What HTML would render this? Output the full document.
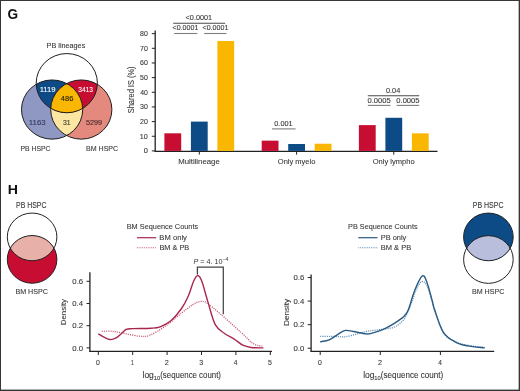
<!DOCTYPE html>
<html><head><meta charset="utf-8"><style>
html,body{margin:0;padding:0;background:#fff;}
svg{display:block;font-family:"Liberation Sans", sans-serif;will-change:transform;}
</style></head><body>
<svg width="520" height="391" viewBox="0 0 520 391">
<rect x="0.5" y="0.5" width="519" height="390" fill="none" stroke="#363636" stroke-width="1"/>
<line x1="518.5" y1="0" x2="518.5" y2="391" stroke="#363636" stroke-opacity="0.35" stroke-width="1"/>
<line x1="0" y1="389.5" x2="520" y2="389.5" stroke="#363636" stroke-opacity="0.4" stroke-width="1"/>
<text x="7.54" y="18.70" font-size="14.30" fill="#111" font-weight="bold" textLength="10.60" lengthAdjust="spacingAndGlyphs" >G</text>
<text x="7.86" y="194.40" font-size="12.40" fill="#111" font-weight="bold" textLength="10.20" lengthAdjust="spacingAndGlyphs" >H</text>
<defs>
<clipPath id="cT"><ellipse cx="66.80" cy="83.15" rx="30.60" ry="29.60"/></clipPath>
<clipPath id="cL"><ellipse cx="52.10" cy="109.55" rx="30.60" ry="29.60"/></clipPath>
<clipPath id="hT1"><ellipse cx="32.10" cy="236.90" rx="24.80" ry="23.85"/></clipPath>
<clipPath id="hT2"><ellipse cx="488.40" cy="236.90" rx="24.80" ry="23.85"/></clipPath>
</defs>
<ellipse cx="52.10" cy="109.55" rx="30.60" ry="29.60" fill="#8f97c3"/>
<ellipse cx="81.30" cy="109.55" rx="30.60" ry="29.60" fill="#e4897e"/>
<g clip-path="url(#cL)"><ellipse cx="81.30" cy="109.55" rx="30.60" ry="29.60" fill="#fbe6a3"/></g>
<g clip-path="url(#cT)"><ellipse cx="52.10" cy="109.55" rx="30.60" ry="29.60" fill="#0d4b86"/><ellipse cx="81.30" cy="109.55" rx="30.60" ry="29.60" fill="#c70d31"/></g>
<g clip-path="url(#cT)"><g clip-path="url(#cL)"><ellipse cx="81.30" cy="109.55" rx="30.60" ry="29.60" fill="#f9b702"/></g></g>
<ellipse cx="66.80" cy="83.15" rx="30.60" ry="29.60" fill="none" stroke="#1e1e1e" stroke-width="1"/>
<ellipse cx="52.10" cy="109.55" rx="30.60" ry="29.60" fill="none" stroke="#1e1e1e" stroke-width="1"/>
<ellipse cx="81.30" cy="109.55" rx="30.60" ry="29.60" fill="none" stroke="#1e1e1e" stroke-width="1"/>
<text x="46.61" y="47.50" font-size="7.80" fill="#383838" stroke="#383838" stroke-width="0.10" textLength="38.66" lengthAdjust="spacingAndGlyphs" >PB lineages</text>
<text x="39.65" y="91.50" font-size="7.20" fill="#fff" stroke="#fff" stroke-width="0.10" textLength="15.99" lengthAdjust="spacingAndGlyphs" >1119</text>
<text x="78.25" y="91.50" font-size="7.20" fill="#fff" stroke="#fff" stroke-width="0.10" textLength="14.74" lengthAdjust="spacingAndGlyphs" >3413</text>
<text x="60.83" y="100.50" font-size="7.20" fill="#241f14" stroke="#241f14" stroke-width="0.12" textLength="12.50" lengthAdjust="spacingAndGlyphs" >486</text>
<text x="62.94" y="125.00" font-size="7.20" fill="#3a3322" stroke="#3a3322" stroke-width="0.08" textLength="7.70" lengthAdjust="spacingAndGlyphs" >31</text>
<text x="28.82" y="125.00" font-size="7.20" fill="#33375a" stroke="#33375a" stroke-width="0.10" textLength="16.91" lengthAdjust="spacingAndGlyphs" >1163</text>
<text x="85.91" y="125.00" font-size="7.20" fill="#4a2828" stroke="#4a2828" stroke-width="0.10" textLength="16.24" lengthAdjust="spacingAndGlyphs" >5299</text>
<text x="20.44" y="150.90" font-size="8.00" fill="#383838" stroke="#383838" stroke-width="0.10" textLength="30.02" lengthAdjust="spacingAndGlyphs" >PB HSPC</text>
<text x="86.02" y="150.90" font-size="8.00" fill="#383838" stroke="#383838" stroke-width="0.10" textLength="32.15" lengthAdjust="spacingAndGlyphs" >BM HSPC</text>
<line x1="155.2" y1="30.4" x2="155.2" y2="151.5" stroke="#222" stroke-width="1.3"/>
<line x1="154.6" y1="151.3" x2="437.5" y2="151.3" stroke="#222" stroke-width="1.3"/>
<line x1="151.8" y1="150.90" x2="155" y2="150.90" stroke="#222" stroke-width="1"/>
<text x="143.76" y="153.35" font-size="6.90" fill="#383838" stroke="#383838" stroke-width="0.10" textLength="4.13" lengthAdjust="spacingAndGlyphs" >0</text>
<line x1="151.8" y1="136.25" x2="155" y2="136.25" stroke="#222" stroke-width="1"/>
<text x="139.85" y="138.69" font-size="6.90" fill="#383838" stroke="#383838" stroke-width="0.10" textLength="8.03" lengthAdjust="spacingAndGlyphs" >10</text>
<line x1="151.8" y1="121.59" x2="155" y2="121.59" stroke="#222" stroke-width="1"/>
<text x="140.05" y="124.04" font-size="6.90" fill="#383838" stroke="#383838" stroke-width="0.10" textLength="7.83" lengthAdjust="spacingAndGlyphs" >20</text>
<line x1="151.8" y1="106.94" x2="155" y2="106.94" stroke="#222" stroke-width="1"/>
<text x="140.14" y="109.39" font-size="6.90" fill="#383838" stroke="#383838" stroke-width="0.10" textLength="7.74" lengthAdjust="spacingAndGlyphs" >30</text>
<line x1="151.8" y1="92.28" x2="155" y2="92.28" stroke="#222" stroke-width="1"/>
<text x="140.24" y="94.73" font-size="6.90" fill="#383838" stroke="#383838" stroke-width="0.10" textLength="7.63" lengthAdjust="spacingAndGlyphs" >40</text>
<line x1="151.8" y1="77.62" x2="155" y2="77.62" stroke="#222" stroke-width="1"/>
<text x="140.12" y="80.08" font-size="6.90" fill="#383838" stroke="#383838" stroke-width="0.10" textLength="7.75" lengthAdjust="spacingAndGlyphs" >50</text>
<line x1="151.8" y1="62.97" x2="155" y2="62.97" stroke="#222" stroke-width="1"/>
<text x="140.04" y="65.42" font-size="6.90" fill="#383838" stroke="#383838" stroke-width="0.10" textLength="7.83" lengthAdjust="spacingAndGlyphs" >60</text>
<line x1="151.8" y1="48.31" x2="155" y2="48.31" stroke="#222" stroke-width="1"/>
<text x="140.04" y="50.77" font-size="6.90" fill="#383838" stroke="#383838" stroke-width="0.10" textLength="7.84" lengthAdjust="spacingAndGlyphs" >70</text>
<line x1="151.8" y1="33.66" x2="155" y2="33.66" stroke="#222" stroke-width="1"/>
<text x="140.10" y="36.11" font-size="6.90" fill="#383838" stroke="#383838" stroke-width="0.10" textLength="7.78" lengthAdjust="spacingAndGlyphs" >80</text>
<text transform="translate(133.80,113.24) rotate(-90)" x="0" y="0" font-size="8.50" fill="#383838" stroke="#383838" stroke-width="0.10" textLength="46.80" lengthAdjust="spacingAndGlyphs">Shared IS (%)</text>
<rect x="164.40" y="133.31" width="16.8" height="17.59" fill="#c70d31"/>
<rect x="190.90" y="121.59" width="16.8" height="29.31" fill="#0d4b86"/>
<rect x="217.40" y="40.99" width="16.8" height="109.91" fill="#f9b702"/>
<line x1="199.30" y1="151" x2="199.30" y2="154.6" stroke="#222" stroke-width="1"/>
<text x="178.16" y="164.30" font-size="7.90" fill="#383838" stroke="#383838" stroke-width="0.10" textLength="41.59" lengthAdjust="spacingAndGlyphs" >Multilineage</text>
<rect x="261.70" y="140.64" width="16.8" height="10.26" fill="#c70d31"/>
<rect x="288.20" y="144.01" width="16.8" height="6.89" fill="#0d4b86"/>
<rect x="314.70" y="143.72" width="16.8" height="7.18" fill="#f9b702"/>
<line x1="296.60" y1="151" x2="296.60" y2="154.6" stroke="#222" stroke-width="1"/>
<text x="277.85" y="164.30" font-size="7.90" fill="#383838" stroke="#383838" stroke-width="0.10" textLength="37.47" lengthAdjust="spacingAndGlyphs" >Only myelo</text>
<rect x="358.90" y="125.11" width="16.8" height="25.79" fill="#c70d31"/>
<rect x="385.40" y="117.78" width="16.8" height="33.12" fill="#0d4b86"/>
<rect x="411.90" y="133.31" width="16.8" height="17.59" fill="#f9b702"/>
<line x1="393.80" y1="151" x2="393.80" y2="154.6" stroke="#222" stroke-width="1"/>
<text x="372.74" y="164.30" font-size="7.90" fill="#383838" stroke="#383838" stroke-width="0.10" textLength="41.97" lengthAdjust="spacingAndGlyphs" >Only lympho</text>
<text x="185.64" y="20.10" font-size="7.10" fill="#383838" stroke="#383838" stroke-width="0.10" textLength="26.41" lengthAdjust="spacingAndGlyphs" >&lt;0.0001</text>
<line x1="173.20" y1="23.30" x2="225.20" y2="23.30" stroke="#4a4a4a" stroke-width="1.1"/>
<text x="172.55" y="30.40" font-size="7.10" fill="#383838" stroke="#383838" stroke-width="0.10" textLength="25.80" lengthAdjust="spacingAndGlyphs" >&lt;0.0001</text>
<line x1="174.20" y1="33.50" x2="197.30" y2="33.50" stroke="#7e7e7e" stroke-width="1.1"/>
<text x="202.55" y="30.40" font-size="7.10" fill="#383838" stroke="#383838" stroke-width="0.10" textLength="25.80" lengthAdjust="spacingAndGlyphs" >&lt;0.0001</text>
<line x1="204.20" y1="33.50" x2="226.50" y2="33.50" stroke="#7e7e7e" stroke-width="1.1"/>
<text x="274.31" y="126.00" font-size="7.10" fill="#383838" stroke="#383838" stroke-width="0.10" textLength="18.34" lengthAdjust="spacingAndGlyphs" >0.001</text>
<line x1="272.00" y1="128.90" x2="295.60" y2="128.90" stroke="#7e7e7e" stroke-width="1.1"/>
<text x="385.91" y="92.90" font-size="7.10" fill="#383838" stroke="#383838" stroke-width="0.10" textLength="14.41" lengthAdjust="spacingAndGlyphs" >0.04</text>
<line x1="367.80" y1="95.70" x2="419.20" y2="95.70" stroke="#4a4a4a" stroke-width="1.1"/>
<text x="367.50" y="103.10" font-size="7.10" fill="#383838" stroke="#383838" stroke-width="0.10" textLength="23.11" lengthAdjust="spacingAndGlyphs" >0.0005</text>
<line x1="367.80" y1="105.40" x2="390.50" y2="105.40" stroke="#7e7e7e" stroke-width="1.1"/>
<text x="396.30" y="103.10" font-size="7.10" fill="#383838" stroke="#383838" stroke-width="0.10" textLength="23.22" lengthAdjust="spacingAndGlyphs" >0.0005</text>
<line x1="396.60" y1="105.40" x2="419.20" y2="105.40" stroke="#7e7e7e" stroke-width="1.1"/>
<ellipse cx="32.10" cy="259.40" rx="24.80" ry="23.85" fill="#c70d31"/>
<g clip-path="url(#hT1)"><ellipse cx="32.10" cy="259.40" rx="24.80" ry="23.85" fill="#e7b0a8"/></g>
<ellipse cx="32.10" cy="236.90" rx="24.80" ry="23.85" fill="none" stroke="#222" stroke-width="1"/>
<ellipse cx="32.10" cy="259.40" rx="24.80" ry="23.85" fill="none" stroke="#222" stroke-width="1"/>
<text x="16.03" y="207.80" font-size="8.20" fill="#383838" stroke="#383838" stroke-width="0.10" textLength="30.43" lengthAdjust="spacingAndGlyphs" >PB HSPC</text>
<text x="15.41" y="293.80" font-size="8.00" fill="#383838" stroke="#383838" stroke-width="0.10" textLength="32.56" lengthAdjust="spacingAndGlyphs" >BM HSPC</text>
<ellipse cx="488.40" cy="236.90" rx="24.80" ry="23.85" fill="#0d4b86"/>
<g clip-path="url(#hT2)"><ellipse cx="488.40" cy="259.50" rx="24.80" ry="23.85" fill="#b9bedc"/></g>
<ellipse cx="488.40" cy="236.90" rx="24.80" ry="23.85" fill="none" stroke="#222" stroke-width="1"/>
<ellipse cx="488.40" cy="259.50" rx="24.80" ry="23.85" fill="none" stroke="#222" stroke-width="1"/>
<text x="472.73" y="207.90" font-size="8.20" fill="#383838" stroke="#383838" stroke-width="0.10" textLength="30.74" lengthAdjust="spacingAndGlyphs" >PB HSPC</text>
<text x="471.92" y="294.00" font-size="8.00" fill="#383838" stroke="#383838" stroke-width="0.10" textLength="32.35" lengthAdjust="spacingAndGlyphs" >BM HSPC</text>
<line x1="89.90" y1="272.20" x2="89.90" y2="351.8" stroke="#222" stroke-width="1.3"/>
<line x1="89.30" y1="351.3" x2="272.00" y2="351.3" stroke="#222" stroke-width="1.3"/>
<line x1="86.50" y1="347.90" x2="89.90" y2="347.90" stroke="#222" stroke-width="1"/>
<text x="72.30" y="350.50" font-size="7.30" fill="#383838" stroke="#383838" stroke-width="0.10" textLength="10.81" lengthAdjust="spacingAndGlyphs" >0.0</text>
<line x1="86.50" y1="325.70" x2="89.90" y2="325.70" stroke="#222" stroke-width="1"/>
<text x="72.29" y="328.30" font-size="7.30" fill="#383838" stroke="#383838" stroke-width="0.10" textLength="10.90" lengthAdjust="spacingAndGlyphs" >0.2</text>
<line x1="86.50" y1="303.50" x2="89.90" y2="303.50" stroke="#222" stroke-width="1"/>
<text x="72.30" y="306.10" font-size="7.30" fill="#383838" stroke="#383838" stroke-width="0.10" textLength="10.73" lengthAdjust="spacingAndGlyphs" >0.4</text>
<line x1="86.50" y1="281.30" x2="89.90" y2="281.30" stroke="#222" stroke-width="1"/>
<text x="72.30" y="283.90" font-size="7.30" fill="#383838" stroke="#383838" stroke-width="0.10" textLength="10.85" lengthAdjust="spacingAndGlyphs" >0.6</text>
<line x1="98.30" y1="351.3" x2="98.30" y2="355" stroke="#222" stroke-width="1"/>
<text x="96.08" y="364.90" font-size="7.30" fill="#383838" stroke="#383838" stroke-width="0.10" textLength="3.84" lengthAdjust="spacingAndGlyphs" >0</text>
<line x1="132.70" y1="351.3" x2="132.70" y2="355" stroke="#222" stroke-width="1"/>
<text x="130.91" y="364.90" font-size="7.30" fill="#383838" stroke="#383838" stroke-width="0.10" textLength="2.84" lengthAdjust="spacingAndGlyphs" >1</text>
<line x1="167.10" y1="351.3" x2="167.10" y2="355" stroke="#222" stroke-width="1"/>
<text x="164.79" y="364.90" font-size="7.30" fill="#383838" stroke="#383838" stroke-width="0.10" textLength="4.03" lengthAdjust="spacingAndGlyphs" >2</text>
<line x1="201.50" y1="351.3" x2="201.50" y2="355" stroke="#222" stroke-width="1"/>
<text x="199.28" y="364.90" font-size="7.30" fill="#383838" stroke="#383838" stroke-width="0.10" textLength="3.87" lengthAdjust="spacingAndGlyphs" >3</text>
<line x1="235.90" y1="351.3" x2="235.90" y2="355" stroke="#222" stroke-width="1"/>
<text x="233.80" y="364.90" font-size="7.30" fill="#383838" stroke="#383838" stroke-width="0.10" textLength="3.64" lengthAdjust="spacingAndGlyphs" >4</text>
<line x1="270.30" y1="351.3" x2="270.30" y2="355" stroke="#222" stroke-width="1"/>
<text x="268.07" y="364.90" font-size="7.30" fill="#383838" stroke="#383838" stroke-width="0.10" textLength="3.87" lengthAdjust="spacingAndGlyphs" >5</text>
<text transform="translate(66.40,325.25) rotate(-90)" x="0" y="0" font-size="8.00" fill="#383838" stroke="#383838" stroke-width="0.10" textLength="26.26" lengthAdjust="spacingAndGlyphs">Density</text>
<text x="142.53" y="377.60" font-size="8.60" fill="#383838" stroke="#383838" stroke-width="0.10" textLength="11.32" lengthAdjust="spacingAndGlyphs" >log</text>
<text x="153.66" y="379.60" font-size="6.00" fill="#383838" stroke="#383838" stroke-width="0.10" textLength="6.47" lengthAdjust="spacingAndGlyphs" >10</text>
<text x="160.21" y="377.60" font-size="8.60" fill="#383838" stroke="#383838" stroke-width="0.10" textLength="60.78" lengthAdjust="spacingAndGlyphs" >(sequence count)</text>
<path d="M101.74,331.47 C103.46,331.44 108.22,330.92 112.06,331.25 C115.90,331.58 120.14,332.64 124.79,333.47 C129.43,334.30 135.74,335.97 139.92,336.25 C144.11,336.52 145.54,336.89 149.90,335.13 C154.26,333.38 160.79,329.38 166.07,325.70 C171.34,322.02 177.08,316.56 181.55,313.05 C186.02,309.53 189.80,306.53 192.90,304.61 C196.00,302.69 197.83,301.78 200.12,301.50 C202.42,301.22 203.28,300.85 206.66,302.94 C210.04,305.04 214.69,309.14 220.42,314.04 C226.15,318.95 235.61,327.44 241.06,332.36 C246.51,337.28 249.55,341.26 253.10,343.57 C256.65,345.88 260.84,345.79 262.39,346.23" fill="none" stroke="#c85a78" stroke-width="1.3" stroke-dasharray="1.1,1.1"/>
<path d="M98.30,333.80 C99.16,334.30 101.51,335.84 103.46,336.80 C105.41,337.76 107.87,339.39 110.00,339.57 C112.12,339.76 114.35,338.83 116.19,337.91 C118.02,336.98 119.34,335.43 121.00,334.02 C122.67,332.62 124.21,330.38 126.16,329.47 C128.11,328.57 128.57,328.79 132.70,328.59 C136.83,328.38 146.35,328.55 150.93,328.25 C155.52,327.96 156.89,328.05 160.22,326.81 C163.55,325.57 167.33,323.87 170.88,320.82 C174.44,317.76 178.62,312.68 181.55,308.50 C184.47,304.31 186.42,300.26 188.43,295.73 C190.43,291.20 192.04,284.67 193.59,281.30 C195.14,277.93 196.34,275.53 197.72,275.53 C199.09,275.53 200.12,276.82 201.84,281.30 C203.56,285.78 205.80,295.17 208.04,302.39 C210.27,309.61 212.51,319.41 215.26,324.59 C218.01,329.77 221.45,331.10 224.55,333.47 C227.64,335.84 230.80,336.84 233.84,338.80 C236.87,340.76 239.91,343.79 242.78,345.24 C245.65,346.68 247.60,347.01 251.04,347.46 C254.48,347.90 261.36,347.83 263.42,347.90" fill="none" stroke="#a8274c" stroke-width="1.4"/>
<text x="126.70" y="228.80" font-size="8.10" fill="#383838" stroke="#383838" stroke-width="0.10" textLength="71.47" lengthAdjust="spacingAndGlyphs" >BM Sequence Counts</text>
<line x1="136.90" y1="237.7" x2="156.20" y2="237.7" stroke="#a8274c" stroke-width="1.2"/>
<line x1="136.90" y1="247.7" x2="156.20" y2="247.7" stroke="#c85a78" stroke-width="1.1" stroke-dasharray="0.9,0.9"/>
<text x="159.37" y="240.20" font-size="8.10" fill="#383838" stroke="#383838" stroke-width="0.10" textLength="27.54" lengthAdjust="spacingAndGlyphs" >BM only</text>
<text x="159.40" y="250.20" font-size="8.10" fill="#383838" stroke="#383838" stroke-width="0.10" textLength="29.79" lengthAdjust="spacingAndGlyphs" >BM &amp; PB</text>
<line x1="311.10" y1="274.60" x2="311.10" y2="351.8" stroke="#222" stroke-width="1.3"/>
<line x1="310.50" y1="351.3" x2="494.20" y2="351.3" stroke="#222" stroke-width="1.3"/>
<line x1="307.70" y1="348.20" x2="311.10" y2="348.20" stroke="#222" stroke-width="1"/>
<text x="293.50" y="350.80" font-size="7.30" fill="#383838" stroke="#383838" stroke-width="0.10" textLength="10.81" lengthAdjust="spacingAndGlyphs" >0.0</text>
<line x1="307.70" y1="324.64" x2="311.10" y2="324.64" stroke="#222" stroke-width="1"/>
<text x="293.49" y="327.24" font-size="7.30" fill="#383838" stroke="#383838" stroke-width="0.10" textLength="10.90" lengthAdjust="spacingAndGlyphs" >0.2</text>
<line x1="307.70" y1="301.08" x2="311.10" y2="301.08" stroke="#222" stroke-width="1"/>
<text x="293.50" y="303.68" font-size="7.30" fill="#383838" stroke="#383838" stroke-width="0.10" textLength="10.73" lengthAdjust="spacingAndGlyphs" >0.4</text>
<line x1="307.70" y1="277.52" x2="311.10" y2="277.52" stroke="#222" stroke-width="1"/>
<text x="293.50" y="280.12" font-size="7.30" fill="#383838" stroke="#383838" stroke-width="0.10" textLength="10.85" lengthAdjust="spacingAndGlyphs" >0.6</text>
<line x1="320.20" y1="351.3" x2="320.20" y2="355" stroke="#222" stroke-width="1"/>
<text x="317.98" y="364.90" font-size="7.30" fill="#383838" stroke="#383838" stroke-width="0.10" textLength="3.84" lengthAdjust="spacingAndGlyphs" >0</text>
<line x1="380.30" y1="351.3" x2="380.30" y2="355" stroke="#222" stroke-width="1"/>
<text x="377.99" y="364.90" font-size="7.30" fill="#383838" stroke="#383838" stroke-width="0.10" textLength="4.03" lengthAdjust="spacingAndGlyphs" >2</text>
<line x1="440.40" y1="351.3" x2="440.40" y2="355" stroke="#222" stroke-width="1"/>
<text x="438.30" y="364.90" font-size="7.30" fill="#383838" stroke="#383838" stroke-width="0.10" textLength="3.64" lengthAdjust="spacingAndGlyphs" >4</text>
<text transform="translate(288.70,325.97) rotate(-90)" x="0" y="0" font-size="8.00" fill="#383838" stroke="#383838" stroke-width="0.10" textLength="27.18" lengthAdjust="spacingAndGlyphs">Density</text>
<text x="363.13" y="377.60" font-size="8.60" fill="#383838" stroke="#383838" stroke-width="0.10" textLength="11.32" lengthAdjust="spacingAndGlyphs" >log</text>
<text x="374.26" y="379.60" font-size="6.00" fill="#383838" stroke="#383838" stroke-width="0.10" textLength="6.47" lengthAdjust="spacingAndGlyphs" >10</text>
<text x="380.80" y="377.60" font-size="8.60" fill="#383838" stroke="#383838" stroke-width="0.10" textLength="62.30" lengthAdjust="spacingAndGlyphs" >(sequence count)</text>
<path d="M320.20,336.42 C322.70,336.42 330.87,336.38 335.22,336.42 C339.58,336.46 341.34,337.44 346.34,336.66 C351.35,335.87 360.12,332.83 365.27,331.71 C370.43,330.59 373.79,330.43 377.29,329.94 C380.80,329.45 383.25,329.35 386.31,328.76 C389.37,328.17 392.62,328.08 395.63,326.41 C398.63,324.74 401.89,322.19 404.34,318.75 C406.79,315.31 408.35,310.70 410.35,305.79 C412.35,300.88 414.46,293.32 416.36,289.30 C418.26,285.28 420.02,282.23 421.77,281.64 C423.52,281.05 425.17,282.53 426.88,285.77 C428.58,289.01 430.68,296.96 431.99,301.08 C433.29,305.20 432.79,305.20 434.69,310.50 C436.59,315.81 439.95,327.68 443.40,332.89 C446.86,338.09 451.42,339.66 455.42,341.72 C459.43,343.78 462.59,344.29 467.44,345.25 C472.30,346.22 481.72,347.12 484.57,347.49" fill="none" stroke="#5b8cb5" stroke-width="1.3" stroke-dasharray="1.1,1.1"/>
<path d="M320.20,341.72 C321.70,341.43 326.21,341.23 329.21,339.95 C332.22,338.68 335.53,335.65 338.23,334.06 C340.93,332.47 342.94,330.84 345.44,330.41 C347.95,329.98 349.80,330.90 353.25,331.47 C356.71,332.04 363.17,333.51 366.18,333.83 C369.18,334.14 368.53,334.06 371.28,333.36 C374.04,332.65 379.20,331.04 382.70,329.59 C386.21,328.13 389.11,326.54 392.32,324.64 C395.53,322.74 399.83,319.73 401.94,318.16 C404.04,316.59 403.84,316.71 404.94,315.22 C406.04,313.72 406.89,313.41 408.55,309.21 C410.20,305.01 412.55,295.56 414.86,290.01 C417.16,284.45 420.37,277.17 422.37,275.87 C424.37,274.57 425.27,278.23 426.88,282.23 C428.48,286.24 430.68,295.27 431.99,299.90 C433.29,304.54 432.79,304.63 434.69,310.03 C436.59,315.43 439.95,326.96 443.40,332.30 C446.86,337.64 451.42,339.82 455.42,342.07 C459.43,344.33 462.59,344.88 467.44,345.84 C472.30,346.81 481.72,347.51 484.57,347.85" fill="none" stroke="#2a5a82" stroke-width="1.4"/>
<text x="348.10" y="228.80" font-size="8.10" fill="#383838" stroke="#383838" stroke-width="0.10" textLength="69.46" lengthAdjust="spacingAndGlyphs" >PB Sequence Counts</text>
<line x1="358.30" y1="237.7" x2="377.50" y2="237.7" stroke="#2a5a82" stroke-width="1.2"/>
<line x1="358.30" y1="247.7" x2="377.50" y2="247.7" stroke="#5b8cb5" stroke-width="1.1" stroke-dasharray="0.9,0.9"/>
<text x="380.79" y="240.20" font-size="8.10" fill="#383838" stroke="#383838" stroke-width="0.10" textLength="25.52" lengthAdjust="spacingAndGlyphs" >PB only</text>
<text x="380.79" y="250.20" font-size="8.10" fill="#383838" stroke="#383838" stroke-width="0.10" textLength="30.41" lengthAdjust="spacingAndGlyphs" >BM &amp; PB</text>
<path d="M197.4,274.5 V267.1 H223.3 V314.2" fill="none" stroke="#444" stroke-width="1.25"/>
<text x="193.4" y="264.4" font-size="7.2" fill="#383838" textLength="29" lengthAdjust="spacingAndGlyphs"><tspan font-style="italic">P</tspan> = 4. 10</text>
<text x="222.6" y="260.6" font-size="5.2" fill="#383838">−4</text>
</svg>
</body></html>
